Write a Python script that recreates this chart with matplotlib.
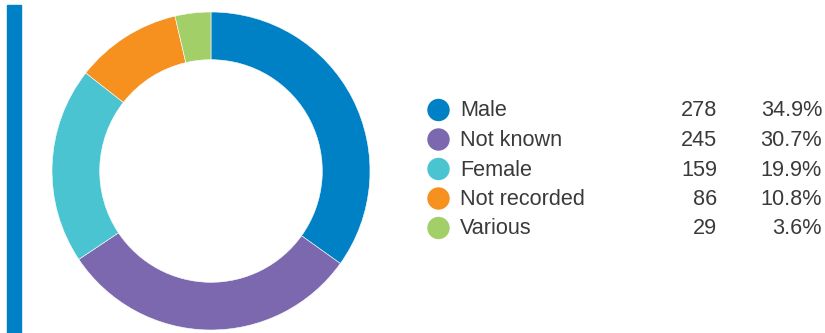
import matplotlib
matplotlib.use("Agg")
import matplotlib.pyplot as plt
from matplotlib.patches import Rectangle

categories = ["Male", "Not known", "Female", "Not recorded", "Various"]
counts = [278, 245, 159, 86, 29]
percent_labels = ["34.9%", "30.7%", "19.9%", "10.8%", "3.6%"]
colors = ["#0081C6", "#7B68AE", "#4BC4D1", "#F6901E", "#A3CF69"]

W, H = 825, 333
fig = plt.figure(figsize=(W / 100, H / 100), dpi=100)
fig.patch.set_facecolor("white")

# left blue bar
fig.patches.append(Rectangle((7 / W, 0), 13.5 / W, (H - 4.7) / H,
                             transform=fig.transFigure, color="#0081C6", zorder=1))

# donut
cx, cy, r = 211, 171, 159
ax = fig.add_axes([(cx - r) / W, (H - cy - r) / H, 2 * r / W, 2 * r / H])
ax.pie(counts, colors=colors, startangle=90, counterclock=False, radius=1,
       wedgeprops=dict(width=0.30, edgecolor="white", linewidth=0.4))
ax.set_xlim(-1, 1)
ax.set_ylim(-1, 1)
ax.set_aspect("equal")
ax.axis("off")

# legend
lax = fig.add_axes([0, 0, 1, 1])
lax.set_xlim(0, W)
lax.set_ylim(H, 0)
lax.axis("off")
y0, dy = 110, 29.5
font = dict(family=["Liberation Sans", "DejaVu Sans"],
            fontsize=15.6, color="#3a3a3a")
for i, (cat, n, p, c) in enumerate(zip(categories, counts, percent_labels, colors)):
    y = y0 + i * dy
    lax.scatter([438.5], [y], s=260, color=c, edgecolors="none")
    lax.text(460, y + 1, cat, ha="left", va="center", **font)
    lax.text(717, y + 1, str(n), ha="right", va="center", **font)
    lax.text(822, y + 1, p, ha="right", va="center", **font)

fig.savefig("out.png", dpi=100, facecolor="white")
